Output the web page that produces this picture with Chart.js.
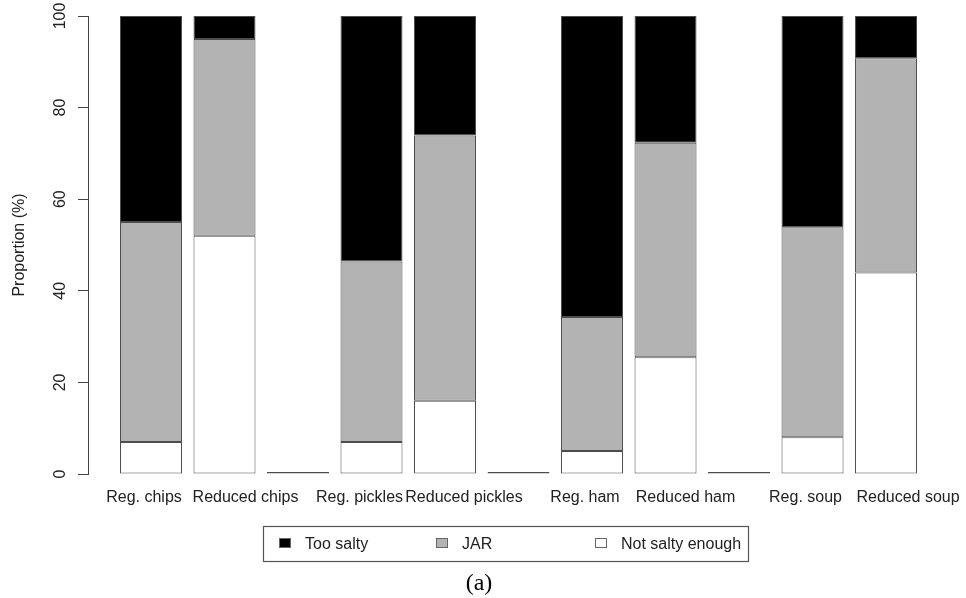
<!DOCTYPE html>
<html>
<head>
<meta charset="utf-8">
<title>Saltiness ratings</title>
<script src="https://cdn.jsdelivr.net/npm/chart.js@4.4.1/dist/chart.umd.min.js"></script>
<style>
  html, body { margin: 0; padding: 0; background: #fff; }
  #wrap { width: 966px; height: 598px; }
</style>
</head>
<body>
<div id="wrap"><canvas id="saltChart" width="966" height="598"></canvas></div>
<script>
// empty names are the gaps between product pairs
const categories = ['Reg. chips', 'Reduced chips', '', 'Reg. pickles', 'Reduced pickles', '', 'Reg. ham', 'Reduced ham', '', 'Reg. soup', 'Reduced soup'];
const notSaltyEnough = [7, 52, 0, 7, 16, 0, 5, 25.5, 0, 8, 44];
const jar = [48, 43, null, 39.4, 57.9, null, 29.3, 46.8, null, 45.9, 46.8];
const tooSalty = [45, 5, null, 53.6, 26.1, null, 65.7, 27.7, null, 46.1, 9.2];
const yTicks = [0, 20, 40, 60, 80, 100];

const SANS = '"Liberation Sans", Arial, Helvetica, sans-serif';
const SERIF = '"Liberation Serif", "Times New Roman", serif';

// R put the names a bit off the bar centres
const labelShift = [-7, 21, 0, -12, 19, 0, -7, 20, 0, -7, 22];

const toPoints = (values) => values.map((v, i) => ({ x: i + 1, y: v }));

const barStyle = {
    borderColor: '#4d4d4d',
    borderWidth: 1,
    borderSkipped: false,
    categoryPercentage: 1,
    barPercentage: 0.8435
};

const rStyle = {
    id: 'rStyle',
    afterDraw(chart) {
        const { ctx, scales: { x, y } } = chart;
        ctx.save();
        ctx.fillStyle = '#222';
        ctx.font = '16px ' + SANS;

        // y tick labels, rotated as R draws them
        ctx.textAlign = 'center';
        ctx.textBaseline = 'middle';
        y.ticks.forEach(t => {
            ctx.save();
            ctx.translate(y.right - 27, y.getPixelForValue(t.value));
            ctx.rotate(-Math.PI / 2);
            ctx.fillText(String(t.value), 0, 0);
            ctx.restore();
        });

        // product names under the bars
        ctx.textBaseline = 'alphabetic';
        categories.forEach((name, i) => {
            if (!name) return;
            ctx.fillText(name, x.getPixelForValue(i + 1) + labelShift[i], y.bottom + 28);
        });

        // legend box below the plot
        ctx.strokeStyle = '#555';
        ctx.lineWidth = 1.2;
        ctx.strokeRect(263.5, 526.5, 485, 35);
        const keyX = [279, 436, 595];
        ctx.font = '16px ' + SANS;
        ctx.textAlign = 'left';
        chart.data.datasets.slice().reverse().forEach((ds, i) => {
            ctx.fillStyle = ds.backgroundColor;
            ctx.fillRect(keyX[i], 538.5, 12, 9);
            ctx.lineWidth = 1;
            ctx.strokeStyle = '#666';
            ctx.strokeRect(keyX[i] + 0.5, 538.5, 11, 9);
            ctx.fillStyle = '#222';
            ctx.fillText(ds.label, keyX[i] + 26, 549);
        });

        // panel caption
        ctx.fillStyle = '#000';
        ctx.font = '24px ' + SERIF;
        ctx.textAlign = 'center';
        ctx.fillText('(a)', 479, 590);
        ctx.restore();
    }
};

new Chart(document.getElementById('saltChart'), {
    type: 'bar',
    data: {
        datasets: [
            { label: 'Not salty enough', data: toPoints(notSaltyEnough), backgroundColor: '#ffffff', minBarLength: 2, inflateAmount: 0, ...barStyle },
            { label: 'JAR', data: toPoints(jar), backgroundColor: '#b3b3b3', ...barStyle },
            { label: 'Too salty', data: toPoints(tooSalty), backgroundColor: '#000000', ...barStyle }
        ]
    },
    options: {
        responsive: false,
        animation: false,
        devicePixelRatio: 1,
        layout: { padding: { left: 0, top: 16, right: 43, bottom: 124 } },
        plugins: { legend: { display: false }, tooltip: { enabled: false } },
        scales: {
            x: {
                type: 'linear',
                display: false,
                stacked: true,
                offset: false,
                grid: { offset: false },
                min: 0.143,
                max: 11.503,
                afterBuildTicks: s => { s.ticks = categories.map((c, i) => ({ value: i + 1 })); }
            },
            y: {
                stacked: true,
                min: 0,
                max: 100,
                afterBuildTicks: s => { s.ticks = yTicks.map(v => ({ value: v })); },
                ticks: { display: false },
                grid: { display: true, drawOnChartArea: false, drawTicks: true, tickLength: 10, color: '#444' },
                border: { display: true, color: '#444', width: 1 },
                title: {
                    display: true,
                    text: 'Proportion (%)',
                    color: '#222',
                    font: { family: SANS, size: 16 },
                    padding: { top: 10, bottom: 48.8 }
                }
            }
        }
    },
    plugins: [rStyle]
});
</script>
</body>
</html>
